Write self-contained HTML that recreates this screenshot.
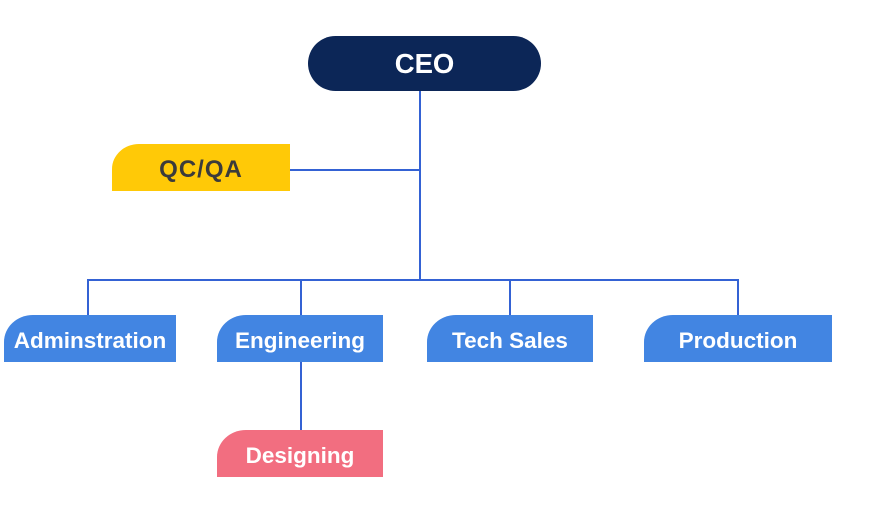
<!DOCTYPE html>
<html>
<head>
<meta charset="utf-8">
<style>
  html,body{margin:0;padding:0;background:#ffffff;}
  body{width:890px;height:508px;position:relative;overflow:hidden;font-family:"Liberation Sans","NanumGothic",sans-serif;}
  .box{position:absolute;display:flex;align-items:center;justify-content:center;font-weight:bold;color:#ffffff;box-sizing:border-box;}
  .dept{background:#4285e2;height:47px;top:315px;font-size:22.5px;border-top-left-radius:29px 27px;padding-top:5px;}
  svg{position:absolute;left:0;top:0;}
</style>
</head>
<body>
<svg width="890" height="508" viewBox="0 0 890 508">
  <g stroke="#3462d4" stroke-width="2" fill="none">
    <line x1="420" y1="88" x2="420" y2="281"/>
    <line x1="288" y1="170" x2="420" y2="170"/>
    <line x1="88" y1="280" x2="739" y2="280"/>
    <line x1="88" y1="279" x2="88" y2="317"/>
    <line x1="301" y1="279" x2="301" y2="317"/>
    <line x1="510" y1="279" x2="510" y2="317"/>
    <line x1="738" y1="279" x2="738" y2="317"/>
    <line x1="301" y1="360" x2="301" y2="432"/>
  </g>
</svg>

<div class="box" style="left:308px;top:36px;width:233px;height:55px;background:#0c2657;border-radius:28px;font-size:27.5px;">CEO</div>

<div class="box" style="left:112px;top:144px;width:178px;height:47px;background:#ffc907;border-top-left-radius:27px 25px;font-size:24px;color:#3b3b3b;letter-spacing:1px;padding-top:5px;">QC/QA</div>

<div class="box dept" style="left:4px;width:172px;">Adminstration</div>
<div class="box dept" style="left:217px;width:166px;">Engineering</div>
<div class="box dept" style="left:427px;width:166px;">Tech Sales</div>
<div class="box dept" style="left:644px;width:188px;">Production</div>

<div class="box dept" style="left:217px;top:430px;width:166px;background:#f26e80;">Designing</div>
</body>
</html>
